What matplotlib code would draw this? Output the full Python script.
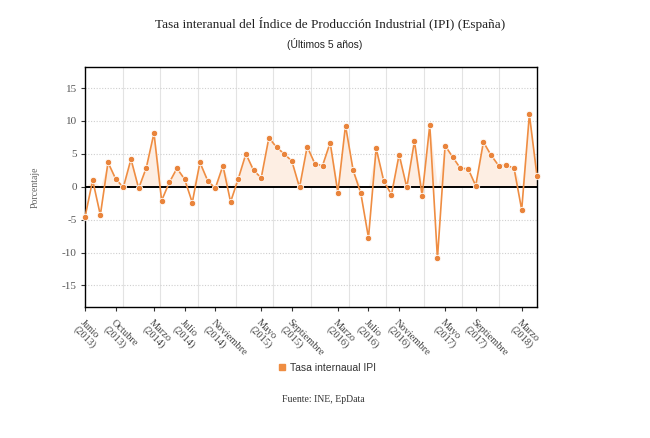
# Tasa interanual del IPI (España), últimos 5 años
import numpy as np
import matplotlib.pyplot as plt
from matplotlib.lines import Line2D

# Junio 2013 .. Mayo 2018 (60 meses)
valores = [-4.6, 1.0, -4.3, 3.7, 1.2, -0.1, 4.2, -0.25, 2.9, 8.15,
           -2.1, 0.65, 2.8, 1.15, -2.4, 3.7, 0.95, -0.25, 3.2, -2.3,
           1.2, 5.0, 2.5, 1.35, 7.45, 6.0, 5.0, 3.9, -0.1, 6.1,
           3.5, 3.2, 6.7, -0.9, 9.3, 2.5, -1.0, -7.75, 5.85, 0.85,
           -1.2, 4.9, -0.1, 6.95, -1.35, 9.35, -10.9, 6.25, 4.5, 2.8,
           2.75, 0.15, 6.8, 4.8, 3.2, 3.3, 2.8, -3.5, 11.0, 1.6]
pos_etiquetas = [0, 4, 9, 13, 17, 23, 27, 33, 37, 41, 47, 51, 57]
etiquetas = ['Junio\n(2013)', 'Octubre\n(2013)', 'Marzo\n(2014)', 'Julio\n(2014)',
             'Noviembre\n(2014)', 'Mayo\n(2015)', 'Septiembre\n(2015)', 'Marzo\n(2016)',
             'Julio\n(2016)', 'Noviembre\n(2016)', 'Mayo\n(2017)', 'Septiembre\n(2017)',
             'Marzo\n(2018)']
yticks = [-15, -10, -5, 0, 5, 10, 15]

naranja = '#ef8d42'
serif = 'Liberation Serif'
sans = 'Liberation Sans'

x = np.arange(len(valores))
y = np.array(valores)

fig = plt.figure(figsize=(6.5, 4.38), dpi=100)
ax = fig.add_axes([0.1308, 0.3002, 0.6954, 0.5468])

# grid
n = len(valores) - 1
for k in range(1, 12):
    ax.axvline(k * n / 12, color='#e3e3e3', lw=0.8, zorder=0)
for t in yticks:
    if t != 0:
        ax.axhline(t, color='#cfcfcf', lw=0.8, ls=(0, (1, 1.5)), zorder=0)

ax.fill_between(x, np.clip(y, 0, None), 0, color='#fdeee3', lw=0, zorder=1)
ax.axhline(0, color='black', lw=1.4, zorder=2)
ax.plot(x, y, color=naranja, lw=1.2, marker='o', markersize=4.6,
        markerfacecolor='#e9843b', markeredgecolor='white', markeredgewidth=0.6,
        zorder=3, clip_on=False)

ax.set_xlim(0, n)
ax.set_ylim(-18.2, 18.2)
ax.set_yticks(yticks)
ax.set_yticklabels([str(t) for t in yticks], family=serif, fontsize=8, color='#555555')
ax.set_xticks(pos_etiquetas)
ax.set_xticklabels(etiquetas, family=serif, fontsize=7.5, color='#444444',
                   rotation=-45, ha='left', va='top', rotation_mode='anchor',
                   linespacing=1.1)
ax.tick_params(axis='both', direction='out', length=3, width=0.8, color='#333333', pad=3)
ax.tick_params(axis='x', pad=5)
for s in ax.spines.values():
    s.set_color('black')
    s.set_linewidth(1.0)

ax.set_ylabel('Porcentaje', family=serif, fontsize=7, color='#666666', labelpad=16)

fig.text(0.508, 1 - 24 / 438, 'Tasa interanual del Índice de Producción Industrial (IPI) (España)',
         family=serif, fontsize=9.5, ha='center', va='center', color='#222222')
fig.text(0.5, 1 - 44 / 438, '(Últimos 5 años)', family=sans, fontsize=7.5,
         ha='center', va='center', color='#222222')

h = Line2D([], [], marker='s', ls='', color=naranja, markersize=5)
fig.legend(handles=[h], labels=['Tasa internaual IPI'], loc='center',
           bbox_to_anchor=(327 / 650, 1 - 368 / 438), frameon=False,
           prop={'family': sans, 'size': 7.5}, handletextpad=0.3, handlelength=0.8,
           labelcolor='#333333')

fig.text(0.497, 1 - 400 / 438, 'Fuente: INE, EpData', family=serif, fontsize=7,
         ha='center', va='center', color='#333333')

fig.savefig('out.png', dpi=100)
